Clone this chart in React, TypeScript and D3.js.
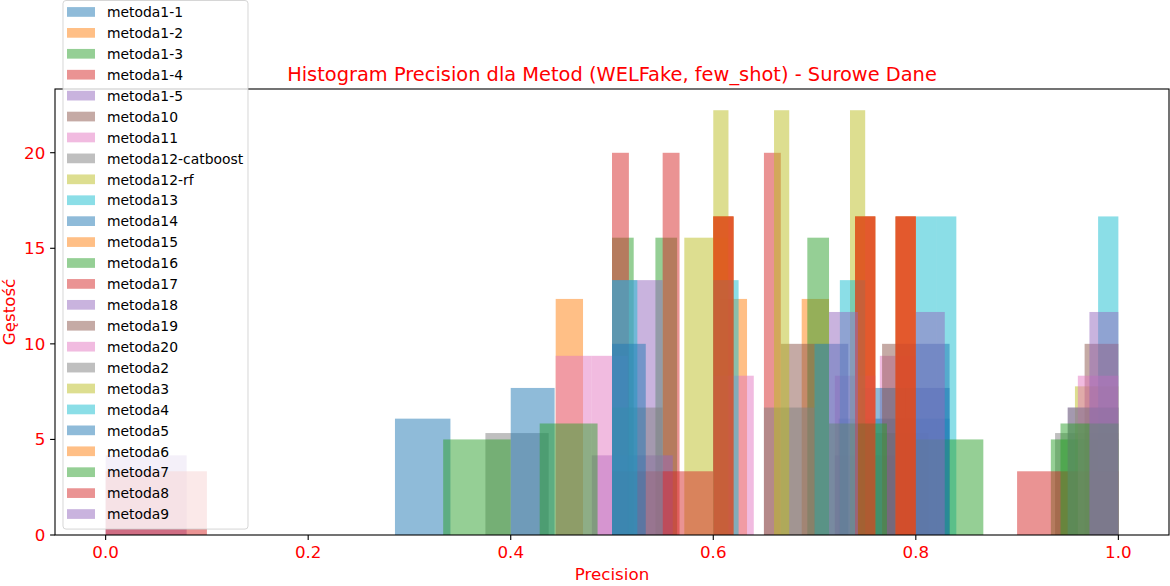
import { useMemo } from "react"
import * as d3 from "d3"

// method names, in the order they were plotted (and listed in the legend)
const methods = [
  "metoda1-1", "metoda1-2", "metoda1-3", "metoda1-4", "metoda1-5",
  "metoda10", "metoda11", "metoda12-catboost", "metoda12-rf", "metoda13",
  "metoda14", "metoda15", "metoda16", "metoda17", "metoda18",
  "metoda19", "metoda20", "metoda2", "metoda3", "metoda4",
  "metoda5", "metoda6", "metoda7", "metoda8", "metoda9",
]

// raw precision of the three runs per method
const precisionRuns: number[][] = [
  [0.2857, 0.75, 0.8333],  // metoda1-1
  [0.4444, 0.61, 0.7143],  // metoda1-2
  [0.5, 0.545, 0.7143],    // metoda1-3
  [0.5, 0.555, 0.6667],    // metoda1-4
  [0.0, 0.5, 0.8],         // metoda1-5
  [0.6, 0.745, 0.8],       // metoda10
  [0.4444, 0.49, 0.8],     // metoda11
  [0.375, 0.76, 1.0],      // metoda12-catboost
  [0.5714, 0.58, 1.0],     // metoda12-rf
  [0.8, 0.825, 1.0],       // metoda13
  [0.4, 0.77, 0.8333],     // metoda14
  [0.6, 0.745, 0.8],       // metoda15
  [0.3333, 0.85, 1.0],     // metoda16
  [0.0, 0.55, 1.0],        // metoda17
  [0.5, 0.52, 1.0],        // metoda18
  [0.6667, 0.78, 1.0],     // metoda19
  [0.6, 0.74, 1.0],        // metoda20
  [0.5, 0.67, 1.0],        // metoda2
  [0.6, 0.665, 0.75],      // metoda3
  [0.5, 0.61, 0.75],       // metoda4
  [0.5, 0.71, 0.8333],     // metoda5
  [0.6, 0.745, 0.8],       // metoda6
  [0.4286, 0.75, 1.0],     // metoda7
  [0.6, 0.745, 0.8],       // metoda8
  [0.7143, 0.81, 1.0],     // metoda9
]

const xTicks = [0, 0.2, 0.4, 0.6, 0.8, 1.0]
const yTicks = [0, 5, 10, 15, 20]

const BIN_COUNT = 10
const RED = "#ff0000"
const FONT = "DejaVu Sans, Liberation Sans, sans-serif"

// same as numpy/matplotlib hist(density=True, bins=10)
function densityHistogram(values: number[]) {
  const lo = d3.min(values) as number
  const hi = d3.max(values) as number
  const step = (hi - lo) / BIN_COUNT
  const thresholds = d3.range(1, BIN_COUNT).map((i) => lo + i * step)
  const bins = d3.bin().domain([lo, hi]).thresholds(thresholds)(values)
  return bins.map((b) => ({
    x0: b.x0 as number,
    x1: b.x1 as number,
    density: b.length / (values.length * ((b.x1 as number) - (b.x0 as number))),
  }))
}

export default function App() {
  const width = 1170
  const height = 586
  const plot = { left: 55, right: 1169, top: 89, bottom: 535 }

  const hists = useMemo(() => precisionRuns.map(densityHistogram), [])
  const color = d3.scaleOrdinal<number, string>(d3.schemeCategory10).domain(d3.range(10))

  const lo = d3.min(precisionRuns.flat()) as number
  const hi = d3.max(precisionRuns.flat()) as number
  const pad = (hi - lo) * 0.05
  const x = d3.scaleLinear().domain([lo - pad, hi + pad]).range([plot.left, plot.right])

  const maxDensity = d3.max(hists.flat(), (d) => d.density) as number
  const y = d3.scaleLinear().domain([0, maxDensity * 1.05]).range([plot.bottom, plot.top])

  // legend geometry
  const legend = { x: 63, y: 0.5, w: 185, rowH: 20.92, firstRow: 12 }
  const legendH = legend.firstRow + legend.rowH * (methods.length - 1) + 15 - legend.y

  return (
    <svg
      width={width}
      height={height}
      style={{ position: "absolute", left: 0, top: 0, background: "#fff" }}
      fontFamily={FONT}
    >
      {/* histograms */}
      <g>
        {hists.map((bins, i) => (
          <g key={methods[i]} fill={color(i % 10)} fillOpacity={0.5}>
            {bins
              .filter((b) => b.density > 0)
              .map((b, j) => (
                <rect
                  key={j}
                  x={x(b.x0)}
                  y={y(b.density)}
                  width={x(b.x1) - x(b.x0)}
                  height={plot.bottom - y(b.density)}
                />
              ))}
          </g>
        ))}
      </g>

      {/* spines */}
      <rect
        x={plot.left}
        y={plot.top}
        width={plot.right - plot.left}
        height={plot.bottom - plot.top}
        fill="none"
        stroke="#000"
        strokeWidth={1.1}
      />

      {/* x axis */}
      {xTicks.map((t) => (
        <g key={t} transform={`translate(${x(t)},${plot.bottom})`}>
          <line y2={4.9} stroke="#000" strokeWidth={1.1} />
          <text y={23} textAnchor="middle" fontSize={16.7} fill={RED}>
            {d3.format(".1f")(t)}
          </text>
        </g>
      ))}
      <text x={(plot.left + plot.right) / 2} y={580} textAnchor="middle" fontSize={16.7} fill={RED}>
        Precision
      </text>

      {/* y axis */}
      {yTicks.map((t) => (
        <g key={t} transform={`translate(${plot.left},${y(t)})`}>
          <line x2={-4.9} stroke="#000" strokeWidth={1.1} />
          <text x={-9.7} y={6} textAnchor="end" fontSize={16.7} fill={RED}>
            {t}
          </text>
        </g>
      ))}
      <text
        transform={`translate(15,${(plot.top + plot.bottom) / 2}) rotate(-90)`}
        textAnchor="middle"
        fontSize={16.7}
        fill={RED}
      >
        Gęstość
      </text>

      {/* title */}
      <text x={(plot.left + plot.right) / 2} y={81} textAnchor="middle" fontSize={19.4} fill={RED}>
        Histogram Precision dla Metod (WELFake, few_shot) - Surowe Dane
      </text>

      {/* legend */}
      <g>
        <rect
          x={legend.x}
          y={legend.y}
          width={legend.w}
          height={legendH}
          rx={3}
          fill="#fff"
          fillOpacity={0.8}
          stroke="#cccccc"
          strokeOpacity={0.8}
        />
        {methods.map((m, i) => {
          const cy = legend.firstRow + i * legend.rowH
          return (
            <g key={m}>
              <rect x={67} y={cy - 4.9} width={28} height={9.7} fill={color(i % 10)} fillOpacity={0.5} />
              <text x={107} y={cy + 5.2} fontSize={13.9} fill="#000">
                {m}
              </text>
            </g>
          )
        })}
      </g>
    </svg>
  )
}
